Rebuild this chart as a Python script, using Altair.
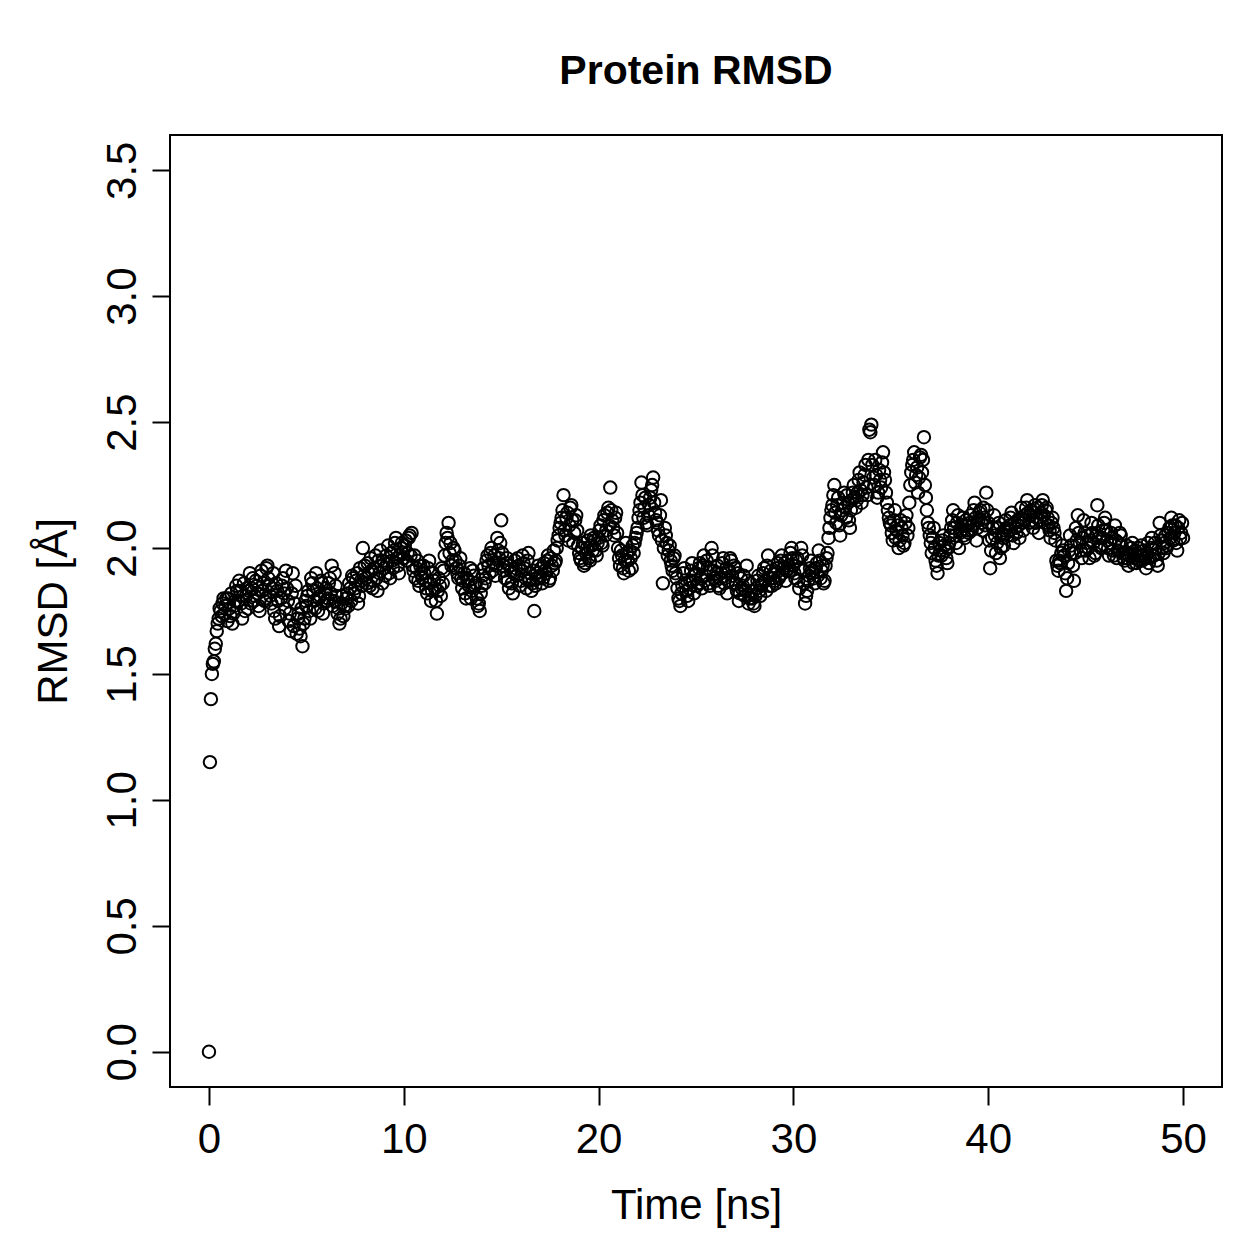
import altair as alt
import pandas as pd

# Frames every 0.05 ns: main frames at k*0.1 ns, intermediate frames at k*0.1+0.05 ns
time_step_ns = 0.1
half_offset_ns = 0.05

rmsd_0_9 = [
    0.00, 1.40, 1.54, 1.60, 1.67, 1.72, 1.75, 1.78, 1.74, 1.80,
    1.80, 1.73, 1.70, 1.77, 1.85, 1.79, 1.83, 1.72, 1.86, 1.81,
    1.76, 1.90, 1.84, 1.79, 1.87, 1.82, 1.75, 1.91, 1.86, 1.80,
    1.93, 1.85, 1.78, 1.90, 1.72, 1.83, 1.69, 1.80, 1.88, 1.76,
    1.84, 1.71, 1.67, 1.90, 1.78, 1.66, 1.74, 1.65, 1.61, 1.72,
    1.77, 1.83, 1.72, 1.86, 1.79, 1.90, 1.75, 1.81, 1.86, 1.78,
    1.84, 1.80, 1.88, 1.93, 1.79, 1.85, 1.74, 1.70, 1.78, 1.73,
    1.76, 1.82, 1.86, 1.79, 1.88, 1.84, 1.90, 1.81, 1.87, 2.00,
    1.93, 1.86, 1.90, 1.96, 1.84, 1.92, 1.88, 1.95, 1.99, 1.86,
    1.92, 1.97, 2.01, 1.88, 1.95, 1.99, 2.04, 1.93, 1.97, 2.02,
]
rmsd_10_19 = [
    1.96, 2.03, 1.98, 2.05, 2.06, 1.91, 1.88, 1.95, 1.85, 1.90,
    1.93, 1.87, 1.82, 1.95, 1.79, 1.90, 1.84, 1.74, 1.88, 1.81,
    1.86, 1.97, 2.06, 2.10, 2.02, 1.95, 1.99, 1.92, 1.88, 1.96,
    1.84, 1.90, 1.80, 1.87, 1.92, 1.83, 1.89, 1.86, 1.77, 1.75,
    1.85, 1.92, 1.88, 1.97, 1.90, 2.00, 1.94, 1.89, 2.04, 1.96,
    2.11, 1.93, 1.88, 1.96, 1.84, 1.91, 1.82, 1.95, 1.89, 1.93,
    1.87, 1.97, 1.92, 1.84, 1.98, 1.90, 1.86, 1.75, 1.88, 1.93,
    1.89, 1.86, 1.94, 1.90, 1.97, 1.88, 1.93, 1.99, 1.95, 2.03,
    2.08, 2.12, 2.21, 2.05, 2.14, 2.09, 2.17, 2.02, 2.11, 2.07,
    1.98, 1.95, 2.02, 1.94, 2.00, 1.96, 2.05, 1.99, 2.03, 1.97,
]
rmsd_20_29 = [
    2.04, 2.09, 2.01, 2.13, 2.07, 2.16, 2.24, 2.11, 2.05, 2.14,
    2.00, 1.93, 1.97, 1.90, 2.02, 1.95, 1.99, 1.92, 1.98, 2.04,
    2.08, 2.15, 2.26, 2.12, 2.20, 2.09, 2.17, 2.23, 2.28, 2.14,
    2.10, 2.05, 2.19, 1.86, 2.08, 2.02, 1.99, 1.95, 1.91, 1.97,
    1.88, 1.80, 1.77, 1.85, 1.92, 1.83, 1.79, 1.87, 1.94, 1.82,
    1.90, 1.86, 1.94, 1.84, 1.97, 1.89, 1.92, 1.85, 2.00, 1.91,
    1.87, 1.93, 1.84, 1.90, 1.96, 1.88, 1.82, 1.91, 1.95, 1.86,
    1.92, 1.83, 1.79, 1.88, 1.85, 1.81, 1.93, 1.78, 1.86, 1.80,
    1.77, 1.84, 1.89, 1.81, 1.86, 1.92, 1.83, 1.97, 1.88, 1.85,
    1.90, 1.86, 1.94, 1.89, 1.97, 1.92, 1.87, 1.95, 1.91, 2.00,
]
rmsd_30_39 = [
    1.93, 1.88, 1.96, 1.84, 2.00, 1.91, 1.78, 1.83, 1.89, 1.95,
    1.90, 1.86, 1.94, 1.99, 1.88, 1.93, 1.87, 1.96, 2.04, 2.12,
    2.17, 2.25, 2.10, 2.20, 2.05, 2.15, 2.22, 2.12, 2.18, 2.08,
    2.19, 2.25, 2.16, 2.22, 2.30, 2.18, 2.26, 2.33, 2.21, 2.47,
    2.49, 2.28, 2.35, 2.20, 2.31, 2.24, 2.38, 2.27, 2.18, 2.12,
    2.09, 2.03, 2.15, 2.07, 2.00, 2.11, 2.05, 2.02, 2.13, 2.08,
    2.25, 2.33, 2.38, 2.29, 2.22, 2.36, 2.30, 2.44, 2.20, 2.10,
    2.05, 1.98, 2.08, 1.95, 1.90, 2.02, 1.97, 2.05, 1.99, 1.94,
    2.02, 2.08, 2.15, 2.05, 2.10, 2.00, 2.07, 2.12, 2.04, 2.09,
    2.06, 2.13, 2.09, 2.18, 2.03, 2.11, 2.15, 2.07, 2.12, 2.22,
]
rmsd_40_50 = [
    2.10, 1.92, 2.04, 2.13, 1.98, 2.08, 1.96, 2.06, 2.01, 2.11,
    2.05, 2.09, 2.14, 2.02, 2.08, 2.11, 2.04, 2.16, 2.07, 2.13,
    2.19, 2.10, 2.15, 2.08, 2.17, 2.12, 2.06, 2.14, 2.19, 2.10,
    2.16, 2.09, 2.04, 2.12, 2.06, 1.95, 1.91, 1.94, 2.01, 1.97,
    1.83, 1.94, 2.05, 1.98, 1.87, 2.08, 2.13, 2.02, 1.96, 2.11,
    1.99, 2.05, 1.96, 2.10, 2.02, 1.98, 2.17, 2.04, 2.00, 2.07,
    2.12, 2.03, 1.97, 2.06, 1.99, 2.09, 1.96, 2.02, 2.05, 1.98,
    1.95, 2.01, 1.93, 1.98, 2.02, 1.96, 1.94, 2.00, 1.97, 1.95,
    1.99, 1.92, 2.02, 1.96, 2.04, 1.97, 2.00, 1.93, 2.10, 2.03,
    1.98, 2.05, 2.01, 2.08, 2.12, 2.03, 2.09, 1.99, 2.11, 2.06,
    2.04,
]

# intermediate frames (t = 0.05, 0.15, ... 49.95 ns)
rmsd_half_0_24 = [
    1.15, 1.50, 1.55, 1.62, 1.70, 1.76, 1.73, 1.80, 1.77, 1.71,
    1.76, 1.82, 1.74, 1.79, 1.83, 1.87, 1.78, 1.81, 1.75, 1.84,
    1.83, 1.78, 1.88, 1.81, 1.85, 1.77, 1.89, 1.83, 1.79, 1.92,
    1.88, 1.81, 1.84, 1.75, 1.86, 1.79, 1.73, 1.85, 1.82, 1.91,
    1.79, 1.74, 1.82, 1.69, 1.85, 1.72, 1.68, 1.76, 1.70, 1.79,
    1.81, 1.75, 1.88, 1.83, 1.76, 1.84, 1.80, 1.87, 1.74, 1.82,
    1.79, 1.86, 1.82, 1.77, 1.90, 1.81, 1.76, 1.72, 1.81, 1.77,
    1.80, 1.77, 1.84, 1.89, 1.82, 1.87, 1.78, 1.92, 1.85, 1.89,
    1.88, 1.94, 1.85, 1.91, 1.87, 1.97, 1.83, 1.90, 1.93, 1.95,
    1.89, 1.94, 1.90, 1.98, 1.92, 2.02, 1.96, 1.90, 2.00, 1.98,
    2.01, 1.95, 2.04, 1.97, 1.93, 1.97, 1.92, 1.87, 1.93, 1.88,
    1.90, 1.84, 1.92, 1.86, 1.83, 1.87, 1.79, 1.83, 1.85, 1.92,
    1.91, 2.02, 2.04, 1.98, 1.93, 2.00, 1.95, 1.90, 1.93, 1.88,
    1.87, 1.82, 1.88, 1.85, 1.80, 1.91, 1.85, 1.80, 1.78, 1.82,
    1.89, 1.86, 1.95, 1.93, 1.98, 1.91, 1.97, 1.93, 1.99, 2.02,
    1.98, 1.91, 1.94, 1.87, 1.93, 1.86, 1.90, 1.92, 1.96, 1.85,
    1.91, 1.94, 1.88, 1.95, 1.87, 1.83, 1.91, 1.85, 1.90, 1.88,
    1.92, 1.88, 1.91, 1.95, 1.87, 1.96, 1.91, 1.94, 2.00, 2.05,
    2.10, 2.15, 2.07, 2.12, 2.03, 2.16, 2.11, 2.06, 2.13, 2.01,
    1.96, 2.00, 1.93, 1.98, 2.03, 1.95, 2.01, 2.04, 1.99, 2.02,
    2.07, 2.02, 2.11, 2.05, 2.14, 2.09, 2.15, 2.08, 2.12, 2.06,
    1.96, 1.99, 1.92, 1.95, 1.98, 1.91, 1.96, 2.01, 2.02, 2.06,
    2.12, 2.18, 2.21, 2.16, 2.10, 2.13, 2.20, 2.25, 2.18, 2.11,
    2.07, 2.13, 2.03, 2.00, 2.05, 1.97, 2.01, 1.93, 1.96, 1.90,
    1.84, 1.79, 1.82, 1.90, 1.86, 1.81, 1.84, 1.91, 1.87, 1.89,
]
rmsd_half_25_49 = [
    1.85, 1.92, 1.88, 1.93, 1.87, 1.95, 1.86, 1.91, 1.97, 1.88,
    1.90, 1.85, 1.88, 1.94, 1.86, 1.92, 1.87, 1.96, 1.89, 1.93,
    1.86, 1.90, 1.82, 1.84, 1.89, 1.83, 1.87, 1.80, 1.83, 1.78,
    1.81, 1.87, 1.83, 1.85, 1.90, 1.87, 1.93, 1.85, 1.91, 1.88,
    1.87, 1.92, 1.88, 1.95, 1.90, 1.94, 1.91, 1.93, 1.98, 1.96,
    1.90, 1.95, 1.87, 1.92, 1.97, 1.86, 1.81, 1.87, 1.92, 1.91,
    1.88, 1.92, 1.89, 1.95, 1.91, 1.86, 1.93, 1.98, 2.08, 2.15,
    2.21, 2.14, 2.17, 2.09, 2.13, 2.18, 2.16, 2.21, 2.11, 2.15,
    2.22, 2.20, 2.19, 2.27, 2.23, 2.21, 2.29, 2.24, 2.35, 2.46,
    2.33, 2.25, 2.29, 2.22, 2.27, 2.34, 2.30, 2.22, 2.15, 2.10,
    2.06, 2.11, 2.04, 2.09, 2.03, 2.08, 2.01, 2.10, 2.05, 2.18,
    2.30, 2.35, 2.26, 2.32, 2.28, 2.37, 2.35, 2.25, 2.15, 2.08,
    2.02, 2.04, 2.00, 1.93, 1.97, 1.99, 2.03, 2.01, 1.96, 2.00,
    2.05, 2.11, 2.08, 2.02, 2.13, 2.06, 2.09, 2.05, 2.11, 2.07,
    2.10, 2.07, 2.15, 2.12, 2.08, 2.14, 2.10, 2.16, 2.09, 2.15,
    2.03, 1.99, 2.08, 2.05, 2.02, 2.10, 2.00, 2.04, 2.07, 2.08,
    2.07, 2.12, 2.05, 2.10, 2.06, 2.09, 2.12, 2.10, 2.11, 2.16,
    2.14, 2.13, 2.11, 2.14, 2.10, 2.16, 2.11, 2.17, 2.13, 2.15,
    2.12, 2.07, 2.10, 2.08, 2.03, 1.93, 1.95, 1.98, 1.99, 1.90,
    1.88, 1.99, 2.01, 1.93, 1.98, 2.03, 2.06, 1.99, 2.04, 2.06,
    2.02, 2.00, 2.03, 2.06, 1.97, 2.05, 2.09, 2.01, 2.04, 2.10,
    2.07, 2.00, 2.02, 2.04, 1.97, 2.03, 1.99, 2.06, 2.01, 1.96,
    1.98, 1.96, 1.97, 2.00, 1.94, 1.99, 1.97, 1.95, 2.01, 1.97,
    1.96, 1.98, 1.94, 2.00, 1.97, 2.02, 1.95, 1.98, 2.05, 2.00,
    2.02, 2.00, 2.06, 2.04, 2.09, 2.06, 2.02, 2.08, 2.04, 2.10,
]

x_ticks = [0, 10, 20, 30, 40, 50]
y_ticks = [0.0, 0.5, 1.0, 1.5, 2.0, 2.5, 3.0, 3.5]

rmsd_main = rmsd_0_9 + rmsd_10_19 + rmsd_20_29 + rmsd_30_39 + rmsd_40_50
rmsd_half = rmsd_half_0_24 + rmsd_half_25_49
time_main = [round(i * time_step_ns, 3) for i in range(len(rmsd_main))]
time_half = [round(i * time_step_ns + half_offset_ns, 3) for i in range(len(rmsd_half))]
df = pd.DataFrame({"time": time_main + time_half, "rmsd": rmsd_main + rmsd_half})
df = df.sort_values("time").reset_index(drop=True)

FONT = "Liberation Sans, Arial, Helvetica, sans-serif"

chart = (
    alt.Chart(df)
    .mark_point(shape="circle", filled=False, color="black", size=155, strokeWidth=2, opacity=1)
    .encode(
        x=alt.X(
            "time:Q",
            scale=alt.Scale(domain=[-2, 52], nice=False, zero=False),
            axis=alt.Axis(
                values=x_ticks,
                format="d",
                title="Time [ns]",
                labelBaseline="alphabetic",
                labelPadding=47,
                titleBaseline="alphabetic",
                titleY=131,
            ),
        ),
        y=alt.Y(
            "rmsd:Q",
            scale=alt.Scale(domain=[-0.14, 3.64], nice=False, zero=False),
            axis=alt.Axis(
                values=y_ticks,
                format=".1f",
                title="RMSD [Å]",
                labelAngle=270,
                labelAlign="center",
                labelBaseline="alphabetic",
                labelPadding=17,
                titleAngle=270,
                titleAlign="center",
                titleBaseline="alphabetic",
                titleX=-104,
                titleY=476,
            ),
        ),
    )
    .properties(
        width=1052,
        height=952,
        background="white",
        title=alt.TitleParams(
            "Protein RMSD",
            font=FONT,
            fontSize=41,
            fontWeight="bold",
            color="black",
            anchor="middle",
            frame="group",
            baseline="alphabetic",
            offset=10,
        ),
        autosize=alt.AutoSizeParams(type="none"),
        padding={"left": 170, "top": 135, "right": 37, "bottom": 172},
    )
    .configure_view(stroke="black", strokeWidth=2)
    .configure_axis(
        grid=False,
        domain=False,
        ticks=True,
        tickColor="black",
        tickWidth=2,
        tickSize=18,
        labelFont=FONT,
        labelFontSize=42,
        labelColor="black",
        titleFont=FONT,
        titleFontSize=42,
        titleFontWeight="normal",
        titleColor="black",
        labelOverlap=False,
    )
)

chart.save("out.html", embed_options={"renderer": "svg", "actions": False})
